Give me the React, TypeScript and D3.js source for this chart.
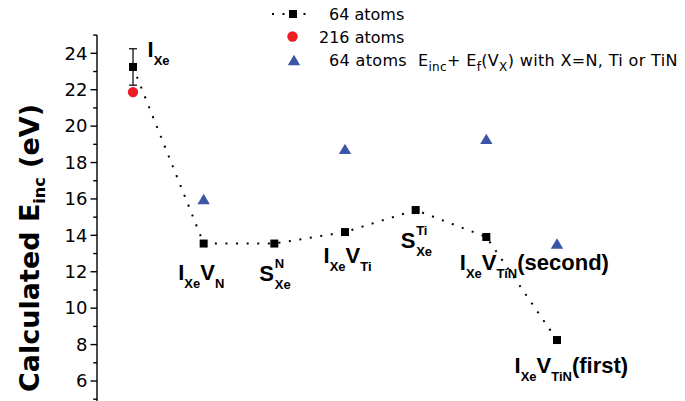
import React from "react";
import * as d3 from "d3";

// ---- data ----
const categories = ["IXe", "IXeVN", "SXeN", "IXeVTi", "SXeTi", "IXeVTiN(second)", "IXeVTiN(first)"];
const atoms64: number[] = [23.25, 13.55, 13.55, 14.18, 15.39, 13.91, 8.25];
const atoms64Err: (number | null)[] = [1.0, null, null, null, null, null, null];
const atoms216: (number | null)[] = [21.87, null, null, null, null, null, null];
const withVacancy: (number | null)[] = [null, 16.0, null, 18.75, null, 19.3, 13.55];
const yMajorTicks = [6, 8, 10, 12, 14, 16, 18, 20, 22, 24];
const yMinorTicks = [5, 7, 9, 11, 13, 15, 17, 19, 21, 23, 25];

type Seg = { t: string; sub?: boolean };
type Label =
  | { kind: "seq"; segs: Seg[] }
  | { kind: "stack"; base: string; sup: string; sub: string };

const pointLabels: Label[] = [
  { kind: "seq", segs: [{ t: "I" }, { t: "Xe", sub: true }] },
  { kind: "seq", segs: [{ t: "I" }, { t: "Xe", sub: true }, { t: "V" }, { t: "N", sub: true }] },
  { kind: "stack", base: "S", sup: "N", sub: "Xe" },
  { kind: "seq", segs: [{ t: "I" }, { t: "Xe", sub: true }, { t: "V" }, { t: "Ti", sub: true }] },
  { kind: "stack", base: "S", sup: "Ti", sub: "Xe" },
  { kind: "seq", segs: [{ t: "I" }, { t: "Xe", sub: true }, { t: "V" }, { t: "TiN", sub: true }, { t: "(second)" }] },
  { kind: "seq", segs: [{ t: "I" }, { t: "Xe", sub: true }, { t: "V" }, { t: "TiN", sub: true }, { t: "(first)" }] },
];

const legendLabels = ["64 atoms", "216 atoms", "64 atoms"];

// label offsets relative to the data point (layout)
const labelOffsets: [number, number][] = [
  [14.5, -10],
  [-25.5, 36],
  [-15, 37],
  [-21.5, 31],
  [-15, 38],
  [-26.5, 33],
  [-42.5, 33],
];

const W = 685;
const H = 401;

export default function App() {
  const x = d3.scalePoint<string>().domain(categories).range([133, 557]);
  const y = d3.scaleLinear().domain([4, 25]).range([417.4, 35.1]);
  const axisX = 97;

  const line = d3
    .line<number>()
    .x((_, i) => x(categories[i]) as number)
    .y((d) => y(d));

  const tri = (cx: number, cy: number) => {
    const p = d3.path();
    p.moveTo(cx, cy - 5.2);
    p.lineTo(cx + 6.2, cy + 5.2);
    p.lineTo(cx - 6.2, cy + 5.2);
    p.closePath();
    return p.toString();
  };

  const labelFont = "'Liberation Sans', Arial, sans-serif";
  const regFont = "'DejaVu Sans', sans-serif";
  const blue = "#3b56a6";
  const red = "#ee1c25";

  const renderLabel = (lab: Label, px: number, py: number, key: number) => {
    if (lab.kind === "stack") {
      return (
        <g key={key} fontFamily={labelFont} fontWeight="bold" fill="#000">
          <text x={px} y={py} fontSize={22}>{lab.base}</text>
          <text x={px + 15.5} y={py - 13} fontSize={13}>{lab.sup}</text>
          <text x={px + 15.5} y={py + 8} fontSize={13}>{lab.sub}</text>
        </g>
      );
    }
    let cur = 0;
    return (
      <text key={key} x={px} y={py} fontFamily={labelFont} fontWeight="bold" fill="#000">
        {lab.segs.map((s, i) => {
          const target = s.sub ? 8 : 0;
          const dy = target - cur;
          cur = target;
          return (
            <tspan key={i} dy={dy} fontSize={s.sub ? 13 : 22}>
              {s.t}
            </tspan>
          );
        })}
      </text>
    );
  };

  return (
    <svg
      width={W}
      height={H}
      style={{ position: "absolute", left: 0, top: 0, background: "#fff" }}
    >
      {/* y axis */}
      <line x1={axisX} x2={axisX} y1={y(25)} y2={y(4)} stroke="#000" strokeWidth={1.4} />
      {yMajorTicks.map((t) => (
        <g key={"M" + t}>
          <line x1={axisX - 6.5} x2={axisX} y1={y(t)} y2={y(t)} stroke="#000" strokeWidth={1.4} />
          <text
            x={axisX - 9.5}
            y={y(t) + 6.3}
            textAnchor="end"
            fontFamily={regFont}
            fontSize={18}
            fill="#000"
          >
            {t}
          </text>
        </g>
      ))}
      {yMinorTicks.map((t) => (
        <line key={"m" + t} x1={axisX - 3.8} x2={axisX} y1={y(t)} y2={y(t)} stroke="#000" strokeWidth={1.4} />
      ))}

      {/* y axis title */}
      <text
        transform={`translate(39, 248) rotate(-90)`}
        textAnchor="middle"
        fontFamily={regFont}
        fontWeight="bold"
        fontSize={27}
        fill="#000"
      >
        <tspan>Calculated E</tspan>
        <tspan fontSize={16} dy={6}>inc</tspan>
        <tspan dy={-6}> (eV)</tspan>
      </text>

      {/* dotted line */}
      <path
        d={line(atoms64) || ""}
        fill="none"
        stroke="#000"
        strokeWidth={2}
        strokeDasharray="2 8.6"
      />

      {/* error bars */}
      {atoms64Err.map((e, i) => {
        if (e == null) return null;
        const cx = x(categories[i]) as number;
        const v = atoms64[i];
        return (
          <g key={"e" + i} stroke="#000" strokeWidth={1.2}>
            <line x1={cx} x2={cx} y1={y(v + e)} y2={y(v - e)} />
            <line x1={cx - 4} x2={cx + 4} y1={y(v + e)} y2={y(v + e)} />
            <line x1={cx - 4} x2={cx + 4} y1={y(v - e)} y2={y(v - e)} />
          </g>
        );
      })}

      {/* 216 atoms */}
      {atoms216.map((v, i) =>
        v == null ? null : (
          <circle key={"c" + i} cx={x(categories[i]) as number} cy={y(v)} r={5.2} fill={red} />
        )
      )}

      {/* 64 atoms squares */}
      {atoms64.map((v, i) => (
        <rect
          key={"s" + i}
          x={(x(categories[i]) as number) - 4}
          y={y(v) - 4}
          width={8}
          height={8}
          fill="#000"
        />
      ))}

      {/* triangles */}
      {withVacancy.map((v, i) =>
        v == null ? null : <path key={"t" + i} d={tri(x(categories[i]) as number, y(v))} fill={blue} />
      )}

      {/* point labels */}
      {pointLabels.map((lab, i) => {
        const px = (x(categories[i]) as number) + labelOffsets[i][0];
        const py = y(atoms64[i]) + labelOffsets[i][1];
        return renderLabel(lab, px, py, i);
      })}

      {/* legend */}
      <g>
        <line x1={271} x2={312} y1={14} y2={14} stroke="#000" strokeWidth={2} strokeDasharray="2 8.5" strokeDashoffset={-1} />
        <rect x={289} y={10} width={8} height={8} fill="#000" />
        <text x={329} y={20} fontFamily={regFont} fontSize={16} fill="#000">{legendLabels[0]}</text>

        <circle cx={292.5} cy={36.5} r={5.2} fill={red} />
        <text x={319} y={43} fontFamily={regFont} fontSize={16} fill="#000">{legendLabels[1]}</text>

        <path d={tri(294, 60)} fill={blue} />
        <text x={329} y={66} fontFamily={regFont} fontSize={16} fill="#000" letterSpacing={0.35}>
          <tspan>{legendLabels[2] + "\u00a0\u00a0E"}</tspan>
          <tspan fontSize={12} dy={5}>inc</tspan>
          <tspan dy={-5}>{"+\u00a0E"}</tspan>
          <tspan fontSize={12} dy={5}>f</tspan>
          <tspan dy={-5}>(V</tspan>
          <tspan fontSize={12} dy={5}>X</tspan>
          <tspan dy={-5}>) with X=N, Ti or TiN</tspan>
        </text>
      </g>
    </svg>
  );
}
